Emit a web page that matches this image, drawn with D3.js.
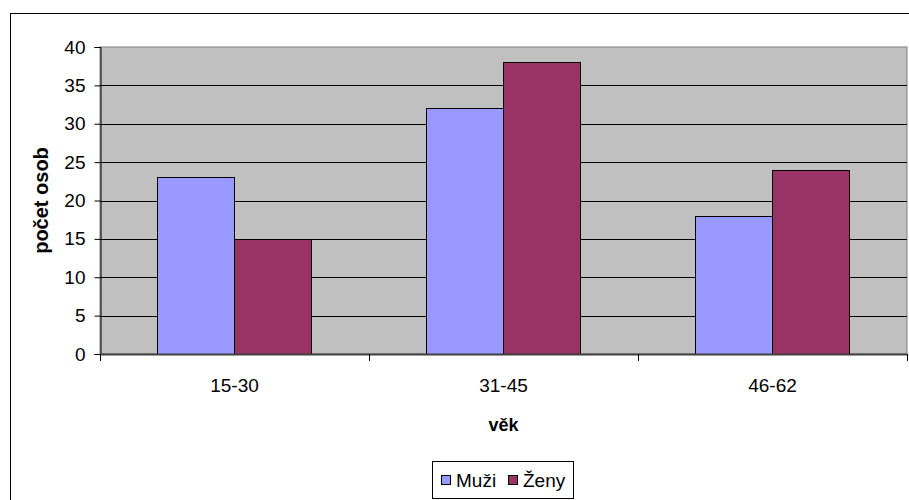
<!DOCTYPE html>
<html><head><meta charset="utf-8">
<script src="https://cdn.jsdelivr.net/npm/d3@7"></script>
<style>body{margin:0;background:#fff}svg{display:block}text{font-family:"Liberation Sans",Arial,sans-serif;fill:#000}</style>
</head><body><svg width="909" height="500"></svg>
<script>
const categories = ["15-30", "31-45", "46-62"];
const seriesNames = ["Muži", "Ženy"];
const muzi = [23, 32, 18];
const zeny = [15, 38, 24];
const yTicks = [0, 5, 10, 15, 20, 25, 30, 35, 40];
const colors = ["#9999FF", "#993366"];

const svg = d3.select("svg");
const m = {left: 100, top: 47, right: 907, bottom: 354};

svg.append("rect").attr("x", 10.5).attr("y", 13.5).attr("width", 1000).attr("height", 1000)
  .attr("fill", "#fff").attr("stroke", "#000");

const x0 = d3.scaleBand().domain(categories).range([m.left, m.right]).paddingInner(0.424).paddingOuter(0.212);
const x1 = d3.scaleBand().domain(seriesNames).range([0, x0.bandwidth()]);
const y = d3.scaleLinear().domain([0, 40]).range([m.bottom, m.top]);
const xc = d3.scalePoint().domain(categories).range([m.left, m.right]).padding(0.5);

svg.append("rect").attr("x", m.left).attr("y", m.top).attr("width", m.right - m.left).attr("height", m.bottom - m.top)
  .attr("fill", "#C0C0C0").attr("stroke", "#808080");

svg.append("g").selectAll("line").data(yTicks.filter(d => d > 0 && d < 40)).join("line")
  .attr("x1", m.left).attr("x2", m.right)
  .attr("y1", d => Math.round(y(d)) + 0.5).attr("y2", d => Math.round(y(d)) + 0.5)
  .attr("stroke", "#000");

const data = categories.map((c, i) => ({c, vals: [muzi[i], zeny[i]]}));
const g = svg.append("g").selectAll("g").data(data).join("g")
  .attr("transform", d => `translate(${Math.round(x0(d.c))},0)`);
g.selectAll("rect").data(d => d.vals.map((v, j) => ({s: seriesNames[j], v, j}))).join("rect")
  .attr("x", d => Math.round(x1(d.s)) + 0.5)
  .attr("y", d => Math.round(y(d.v)) + 0.5)
  .attr("width", Math.round(x1.bandwidth()))
  .attr("height", d => m.bottom - Math.round(y(d.v)))
  .attr("fill", d => colors[d.j]).attr("stroke", "#000");

// y axis
const yAxis = d3.axisLeft(y).tickValues(yTicks).tickSize(6).tickPadding(9);
const ya = svg.append("g").attr("transform", `translate(${m.left + 0.5},0)`).call(yAxis);
ya.select(".domain").attr("stroke", "#000");
ya.selectAll(".tick line").attr("stroke", "#000");
ya.selectAll("text").attr("font-size", 19).attr("font-family", "Liberation Sans").attr("fill", "#000");

// x axis
const xb = d3.scaleLinear().domain([0, 3]).range([m.left, m.right]);
const xa = svg.append("g").attr("transform", `translate(0,${m.bottom})`);
xa.append("line").attr("x1", m.left).attr("x2", m.right).attr("y1", 0.5).attr("y2", 0.5).attr("stroke", "#404040").attr("stroke-width", 2);
xa.selectAll(".bt").data([0, 1, 2, 3]).join("line").attr("class", "bt")
  .attr("x1", d => Math.round(xb(d)) + 0.5).attr("x2", d => Math.round(xb(d)) + 0.5)
  .attr("y1", 0).attr("y2", 7).attr("stroke", "#000");
xa.selectAll(".lab").data(categories).join("text").attr("class", "lab")
  .attr("x", d => xc(d)).attr("y", 38).attr("text-anchor", "middle").attr("font-size", 19).text(d => d);

// axis titles
svg.append("text").attr("x", (m.left + m.right) / 2).attr("y", 431).attr("text-anchor", "middle")
  .attr("font-size", 18).attr("font-weight", "bold").text("věk");
svg.append("text").attr("transform", `translate(48,${(m.top + m.bottom) / 2}) rotate(-90)`).attr("text-anchor", "middle")
  .attr("font-size", 20).attr("font-weight", "bold").text("počet osob");

// legend
const lg = svg.append("g");
lg.append("rect").attr("x", 432.5).attr("y", 461.5).attr("width", 141).attr("height", 37).attr("fill", "#fff").attr("stroke", "#000");
const items = [{n: seriesNames[0], x: 441, c: colors[0]}, {n: seriesNames[1], x: 508, c: colors[1]}];
const li = lg.selectAll("g").data(items).join("g");
li.append("rect").attr("x", d => d.x + 0.5).attr("y", 475.5).attr("width", 9).attr("height", 9).attr("fill", d => d.c).attr("stroke", "#000");
li.append("text").attr("x", d => d.x + 15).attr("y", 487).attr("font-size", 19).text(d => d.n);
</script></body></html>
